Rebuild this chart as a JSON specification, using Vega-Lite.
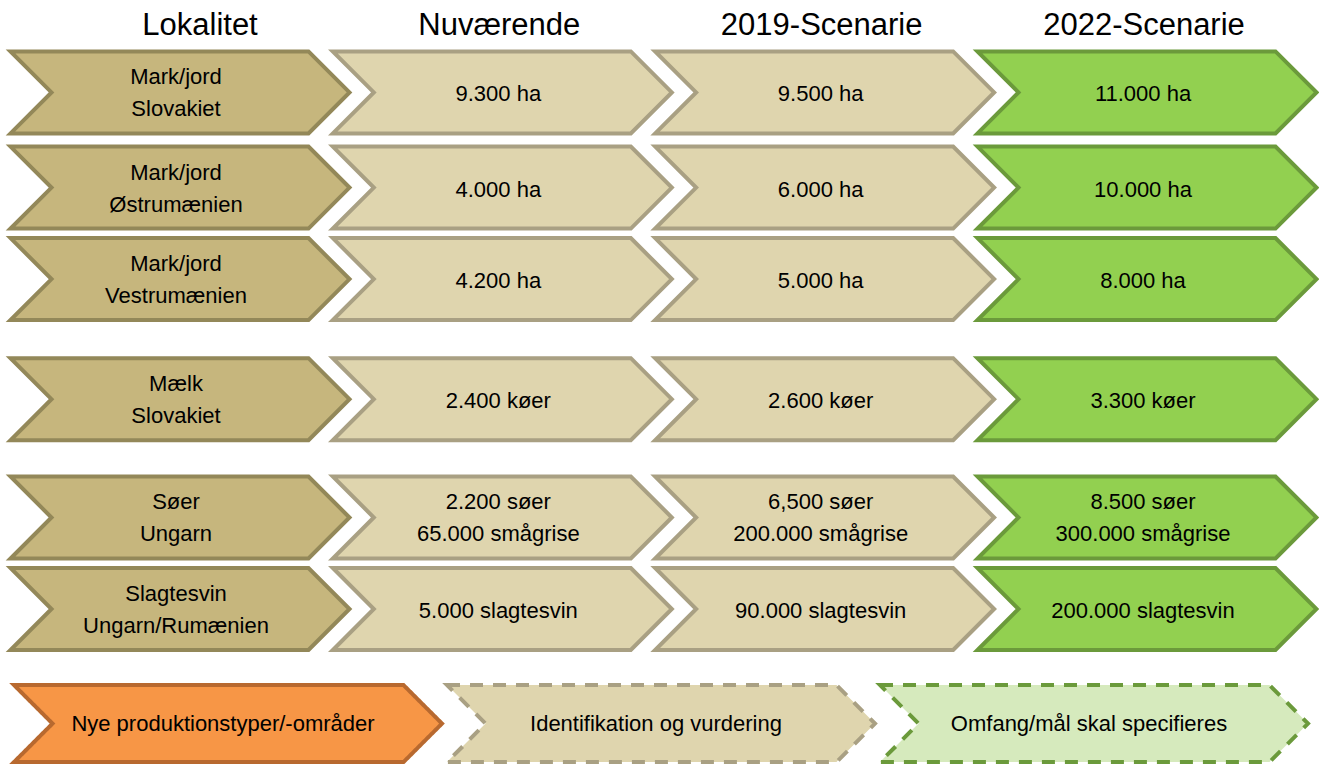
{
  "$schema": "https://vega.github.io/schema/vega-lite/v6.json",
  "width": 1319,
  "height": 767,
  "padding": 0,
  "autosize": {"type": "none"},
  "background": "white",
  "config": {"view": {"stroke": null}, "text": {"font": "Liberation Sans"}},
  "datasets": {
    "overskrifter": [
      {"kolonne": "Lokalitet", "rad": 0.28},
      {"kolonne": "Nuværende", "rad": 0.28},
      {"kolonne": "2019-Scenarie", "rad": 0.28},
      {"kolonne": "2022-Scenarie", "rad": 0.28}
    ],
    "celler": [
      {"kolonne": "Lokalitet", "rad": 1, "tekst": "Mark/jord\nSlovakiet"},
      {"kolonne": "Nuværende", "rad": 1, "tekst": "9.300 ha"},
      {"kolonne": "2019-Scenarie", "rad": 1, "tekst": "9.500 ha"},
      {"kolonne": "2022-Scenarie", "rad": 1, "tekst": "11.000 ha"},
      {"kolonne": "Lokalitet", "rad": 2.03, "tekst": "Mark/jord\nØstrumænien"},
      {"kolonne": "Nuværende", "rad": 2.03, "tekst": "4.000 ha"},
      {"kolonne": "2019-Scenarie", "rad": 2.03, "tekst": "6.000 ha"},
      {"kolonne": "2022-Scenarie", "rad": 2.03, "tekst": "10.000 ha"},
      {"kolonne": "Lokalitet", "rad": 3.02, "tekst": "Mark/jord\nVestrumænien"},
      {"kolonne": "Nuværende", "rad": 3.02, "tekst": "4.200 ha"},
      {"kolonne": "2019-Scenarie", "rad": 3.02, "tekst": "5.000 ha"},
      {"kolonne": "2022-Scenarie", "rad": 3.02, "tekst": "8.000 ha"},
      {"kolonne": "Lokalitet", "rad": 4.32, "tekst": "Mælk\nSlovakiet"},
      {"kolonne": "Nuværende", "rad": 4.32, "tekst": "2.400 køer"},
      {"kolonne": "2019-Scenarie", "rad": 4.32, "tekst": "2.600 køer"},
      {"kolonne": "2022-Scenarie", "rad": 4.32, "tekst": "3.300 køer"},
      {"kolonne": "Lokalitet", "rad": 5.6, "tekst": "Søer\nUngarn"},
      {"kolonne": "Nuværende", "rad": 5.6, "tekst": "2.200 søer\n65.000 smågrise"},
      {"kolonne": "2019-Scenarie", "rad": 5.6, "tekst": "6,500 søer\n200.000 smågrise"},
      {"kolonne": "2022-Scenarie", "rad": 5.6, "tekst": "8.500 søer\n300.000 smågrise"},
      {"kolonne": "Lokalitet", "rad": 6.59, "tekst": "Slagtesvin\nUngarn/Rumænien"},
      {"kolonne": "Nuværende", "rad": 6.59, "tekst": "5.000 slagtesvin"},
      {"kolonne": "2019-Scenarie", "rad": 6.59, "tekst": "90.000 slagtesvin"},
      {"kolonne": "2022-Scenarie", "rad": 6.59, "tekst": "200.000 slagtesvin"}
    ],
    "forklaring": [
      {"punkt": "Nye produktionstyper/-områder", "rad": 7.83},
      {"punkt": "Identifikation  og vurdering", "rad": 7.83},
      {"punkt": "Omfang/mål  skal specifieres", "rad": 7.83}
    ]
  },
  "layer": [
    {
      "data": {"name": "celler"},
      "mark": {
        "type": "point",
        "shape": "M-1,-0.2419L0.7581,-0.2419L1,0L0.7581,0.2419L-1,0.2419L-0.7581,0Z",
        "size": 114921,
        "filled": true,
        "opacity": 1,
        "fillOpacity": 1,
        "strokeOpacity": 1,
        "strokeWidth": 4,
        "strokeJoin": "miter"
      },
      "encoding": {
        "x": {"field": "kolonne", "type": "nominal", "scale": {"type": "point", "padding": 0, "domain": ["Lokalitet", "Nuværende", "2019-Scenarie", "2022-Scenarie"], "range": [180, 1147]}, "axis": null},
        "y": {"field": "rad", "type": "quantitative", "scale": {"domain": [0, 8.3], "reverse": true, "nice": false, "zero": false}, "axis": null},
        "fill": {"field": "kolonne", "type": "nominal", "scale": {"domain": ["Lokalitet", "Nuværende", "2019-Scenarie", "2022-Scenarie"], "range": ["#C6B67D", "#DFD5AE", "#DFD5AE", "#92D050"]}, "legend": null},
        "stroke": {"field": "kolonne", "type": "nominal", "scale": {"domain": ["Lokalitet", "Nuværende", "2019-Scenarie", "2022-Scenarie"], "range": ["#938859", "#A9A083", "#A9A083", "#6B9A3B"]}, "legend": null}
      }
    },
    {
      "data": {"name": "celler"},
      "transform": [{"filter": "indexof(datum.tekst, '\\n') < 0"}],
      "mark": {"type": "text", "fontSize": 22, "baseline": "middle", "align": "center", "color": "#000000", "dx": -4, "dy": 2},
      "encoding": {
        "x": {"field": "kolonne", "type": "nominal", "scale": {"type": "point", "padding": 0, "domain": ["Lokalitet", "Nuværende", "2019-Scenarie", "2022-Scenarie"], "range": [180, 1147]}, "axis": null},
        "y": {"field": "rad", "type": "quantitative", "scale": {"domain": [0, 8.3], "reverse": true, "nice": false, "zero": false}, "axis": null},
        "text": {"field": "tekst"}
      }
    },
    {
      "data": {"name": "celler"},
      "transform": [{"filter": "indexof(datum.tekst, '\\n') >= 0"}],
      "mark": {"type": "text", "fontSize": 22, "lineBreak": "\n", "lineHeight": 32, "baseline": "middle", "align": "center", "color": "#000000", "dx": -4, "dy": -15},
      "encoding": {
        "x": {"field": "kolonne", "type": "nominal", "scale": {"type": "point", "padding": 0, "domain": ["Lokalitet", "Nuværende", "2019-Scenarie", "2022-Scenarie"], "range": [180, 1147]}, "axis": null},
        "y": {"field": "rad", "type": "quantitative", "scale": {"domain": [0, 8.3], "reverse": true, "nice": false, "zero": false}, "axis": null},
        "text": {"field": "tekst"}
      }
    },
    {
      "data": {"name": "overskrifter"},
      "transform": [{"filter": "datum.kolonne === 'Lokalitet'"}],
      "mark": {"type": "text", "fontSize": 31, "baseline": "middle", "align": "center", "color": "#000000", "dx": 20},
      "encoding": {
        "x": {"field": "kolonne", "type": "nominal", "scale": {"type": "point", "padding": 0, "domain": ["Lokalitet", "Nuværende", "2019-Scenarie", "2022-Scenarie"], "range": [180, 1147]}, "axis": null},
        "y": {"field": "rad", "type": "quantitative", "scale": {"domain": [0, 8.3], "reverse": true, "nice": false, "zero": false}, "axis": null},
        "text": {"field": "kolonne"}
      }
    },
    {
      "data": {"name": "overskrifter"},
      "transform": [{"filter": "datum.kolonne !== 'Lokalitet'"}],
      "mark": {"type": "text", "fontSize": 31, "baseline": "middle", "align": "center", "color": "#000000", "dx": -3},
      "encoding": {
        "x": {"field": "kolonne", "type": "nominal", "scale": {"type": "point", "padding": 0, "domain": ["Lokalitet", "Nuværende", "2019-Scenarie", "2022-Scenarie"], "range": [180, 1147]}, "axis": null},
        "y": {"field": "rad", "type": "quantitative", "scale": {"domain": [0, 8.3], "reverse": true, "nice": false, "zero": false}, "axis": null},
        "text": {"field": "kolonne"}
      }
    },
    {
      "data": {"name": "forklaring"},
      "mark": {
        "type": "point",
        "shape": "M-1,-0.18L0.82,-0.18L1,0L0.82,0.18L-1,0.18L-0.82,0Z",
        "size": 183184,
        "filled": true,
        "opacity": 1,
        "fillOpacity": 1,
        "strokeOpacity": 1,
        "strokeWidth": 4,
        "strokeJoin": "miter"
      },
      "encoding": {
        "x": {"field": "punkt", "type": "nominal", "scale": {"type": "point", "padding": 0, "domain": ["Nye produktionstyper/-områder", "Identifikation  og vurdering", "Omfang/mål  skal specifieres"], "range": [228, 1094]}, "axis": null},
        "y": {"field": "rad", "type": "quantitative", "scale": {"domain": [0, 8.3], "reverse": true, "nice": false, "zero": false}, "axis": null},
        "fill": {"field": "punkt", "type": "nominal", "scale": {"domain": ["Nye produktionstyper/-områder", "Identifikation  og vurdering", "Omfang/mål  skal specifieres"], "range": ["#F79646", "#DFD5AE", "#D6EABD"]}, "legend": null},
        "stroke": {"field": "punkt", "type": "nominal", "scale": {"domain": ["Nye produktionstyper/-områder", "Identifikation  og vurdering", "Omfang/mål  skal specifieres"], "range": ["#B8692F", "#A9A083", "#6B9A3B"]}, "legend": null},
        "strokeDash": {"field": "punkt", "type": "nominal", "scale": {"domain": ["Nye produktionstyper/-områder", "Identifikation  og vurdering", "Omfang/mål  skal specifieres"], "range": [[1, 0], [13, 10], [13, 10]]}, "legend": null}
      }
    },
    {
      "data": {"name": "forklaring"},
      "mark": {"type": "text", "fontSize": 22, "baseline": "middle", "align": "center", "color": "#000000", "dx": -5},
      "encoding": {
        "x": {"field": "punkt", "type": "nominal", "scale": {"type": "point", "padding": 0, "domain": ["Nye produktionstyper/-områder", "Identifikation  og vurdering", "Omfang/mål  skal specifieres"], "range": [228, 1094]}, "axis": null},
        "y": {"field": "rad", "type": "quantitative", "scale": {"domain": [0, 8.3], "reverse": true, "nice": false, "zero": false}, "axis": null},
        "text": {"field": "punkt"}
      }
    }
  ],
  "resolve": {"scale": {"x": "independent", "fill": "independent", "stroke": "independent"}}
}
